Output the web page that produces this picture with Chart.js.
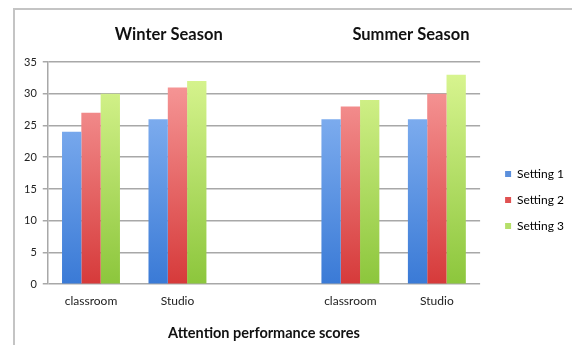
<!DOCTYPE html>
<html>
<head>
<meta charset="utf-8">
<script src="https://cdn.jsdelivr.net/npm/chart.js@4.4.0/dist/chart.umd.min.js"></script>
<style>
    html, body { margin: 0; padding: 0; background: #fff; }
    #wrap { width: 572px; height: 345px; position: relative; }
</style>
</head>
<body>
<div id="wrap"><canvas id="chart" width="572" height="345"></canvas></div>
<script>
const categories = ['classroom', 'Studio', '', 'classroom', 'Studio'];
const setting1 = [24, 26, null, 26, 26];
const setting2 = [27, 31, null, 28, 30];
const setting3 = [30, 32, null, 29, 33];
const seasons = [
    { label: 'Winter Season', at: 0.9 },
    { label: 'Summer Season', at: 3.7 },
];
const yTicks = [0, 5, 10, 15, 20, 25, 30, 35];

const FONT = 'Lato, "Open Sans", sans-serif';

function gradient(top, bottom) {
    return (ctx) => {
        const area = ctx.chart.chartArea;
        if (!area) return bottom;
        const g = ctx.chart.ctx.createLinearGradient(0, area.top, 0, area.bottom);
        g.addColorStop(0, top);
        g.addColorStop(1, bottom);
        return g;
    };
}

// light frame round the chart, season titles, legend nudged off the plot
const framePlugin = {
    id: 'frame',
    afterLayout(chart) {
        const lg = chart.legend;
        if (!lg) return;
        lg.left += 11;
        lg.right += 11;
        lg.top -= 2;
        lg.bottom -= 2;
    },
    beforeDraw(chart) {
        const { ctx } = chart;
        ctx.save();
        ctx.strokeStyle = '#c4c4c4';
        ctx.lineWidth = 2;
        ctx.beginPath();
        ctx.moveTo(14, 345);
        ctx.lineTo(14, 9);
        ctx.lineTo(572, 9);
        ctx.stroke();
        ctx.restore();
    },
    afterDraw(chart) {
        const { ctx } = chart;
        const x = chart.scales.x;
        ctx.save();
        ctx.font = 'bold 16.5px ' + FONT;
        ctx.fillStyle = '#111';
        ctx.textAlign = 'center';
        ctx.textBaseline = 'middle';
        seasons.forEach((s) => ctx.fillText(s.label, x.getPixelForValue(s.at), 35));
        ctx.restore();
    },
};

new Chart(document.getElementById('chart'), {
    type: 'bar',
    data: {
        labels: categories,
        datasets: [
            { label: 'Setting 1', data: setting1, backgroundColor: gradient('#92bcf6', '#3a7ad6'), legendColor: '#5b8fdc' },
            { label: 'Setting 2', data: setting2, backgroundColor: gradient('#f9a0a0', '#d63a3a'), legendColor: '#e05252' },
            { label: 'Setting 3', data: setting3, backgroundColor: gradient('#dcf794', '#8cc63c'), legendColor: '#b5df6a' },
        ],
    },
    options: {
        responsive: false,
        animation: false,
        layout: { padding: { left: 18, right: 9, top: 62, bottom: 3 } },
        datasets: { bar: { categoryPercentage: 0.67, barPercentage: 1.0 } },
        scales: {
            x: {
                grid: { display: false, drawTicks: false },
                border: { display: false },
                ticks: { color: '#222', font: { family: FONT, size: 12 }, padding: 10 },
                title: {
                    display: true,
                    text: 'Attention performance scores',
                    color: '#111',
                    font: { family: FONT, size: 14.5, weight: 'bold' },
                    padding: { top: 6, bottom: 0 },
                },
            },
            y: {
                min: 0,
                max: 35,
                afterBuildTicks: (axis) => { axis.ticks = yTicks.map((v) => ({ value: v })); },
                grid: { color: '#a8a8a8', lineWidth: 1.5, tickLength: 5 },
                border: { color: '#a8a8a8', width: 1.5 },
                ticks: { color: '#222', font: { family: FONT, size: 11 }, padding: 6 },
            },
        },
        plugins: {
            legend: {
                position: 'right',
                labels: {
                    boxWidth: 6,
                    boxHeight: 6,
                    padding: 14,
                    color: '#222',
                    font: { family: FONT, size: 12 },
                    generateLabels: (chart) => chart.data.datasets.map((ds, i) => ({
                        text: ds.label,
                        fillStyle: ds.legendColor,
                        strokeStyle: ds.legendColor,
                        lineWidth: 0,
                        datasetIndex: i,
                        hidden: false,
                    })),
                },
            },
            tooltip: { enabled: false },
        },
    },
    plugins: [framePlugin],
});
</script>
</body>
</html>
